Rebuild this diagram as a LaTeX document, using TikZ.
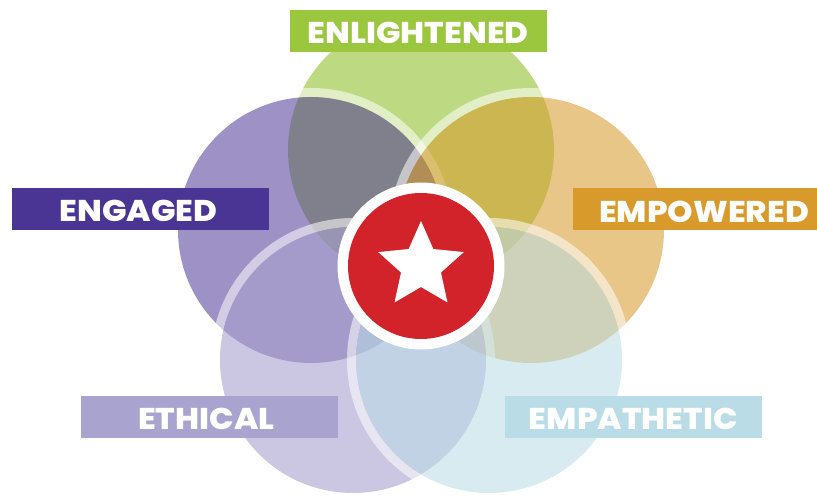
\documentclass[tikz,border=0pt]{standalone}
\usepackage{fontspec}
\newfontfamily\labfont{Poppins ExtraBold}[FakeStretch=1.08]
\usetikzlibrary{calc}
\definecolor{cgreen}{HTML}{9BC73F}
\definecolor{cpurple}{HTML}{4B3594}
\definecolor{corange}{HTML}{D79A2B}
\definecolor{clav}{HTML}{A9A3CF}
\definecolor{cblue}{HTML}{B9DCE6}
\definecolor{cred}{HTML}{D2232A}
\begin{document}
\begin{tikzpicture}[x=1pt,y=-1pt,
  ring/.style={draw=white, draw opacity=0.55, line width=9pt},
  labelbox/.style={rectangle, fill=#1, inner sep=0pt, outer sep=0pt, minimum height=42pt},
  labeltext/.style={anchor=base, inner sep=0pt, text=white, font=\labfont\fontsize{30}{30}\selectfont}
]
\clip (0,0) rectangle (817,502);
\fill[white] (0,0) rectangle (817,502);
% centres
\coordinate (cC) at (421,266);
\coordinate (cEnl) at (421,150);
\coordinate (cEng) at (311,230);
\coordinate (cEmp) at (531,230);
\coordinate (cEth) at (353,360);
\coordinate (cEpa) at (489,360);
% petals (ring outside the disc, then disc)
\path[ring] (cEnl) circle[radius=137.5pt];
\path[fill=cgreen, fill opacity=0.65] (cEnl) circle[radius=133pt];
\path[ring] (cEng) circle[radius=137.5pt];
\path[fill=cpurple, fill opacity=0.54] (cEng) circle[radius=133pt];
\path[ring] (cEmp) circle[radius=137.5pt];
\path[fill=corange, fill opacity=0.56] (cEmp) circle[radius=133pt];
\path[ring] (cEth) circle[radius=137.5pt];
\path[fill=clav, fill opacity=0.6] (cEth) circle[radius=133pt];
\path[ring] (cEpa) circle[radius=137.5pt];
\path[fill=cblue, fill opacity=0.55] (cEpa) circle[radius=133pt];
% centre badge
\path[fill=white] (cC) circle[radius=83.5pt];
\path[fill=cred] (cC) circle[radius=73pt];
\path[fill=white] ($(cC)+(0,-45)$) -- ($(cC)+(12.34,-16.99)$) -- ($(cC)+(42.80,-13.91)$)
  -- ($(cC)+(19.97,6.49)$) -- ($(cC)+(26.45,36.41)$) -- ($(cC)+(0,21)$)
  -- ($(cC)+(-26.45,36.41)$) -- ($(cC)+(-19.97,6.49)$) -- ($(cC)+(-42.80,-13.91)$)
  -- ($(cC)+(-12.34,-16.99)$) -- cycle;
% label boxes
\node[labelbox=cgreen, minimum width=257pt] (bEnl) at (418.5,31) {};
\node[labelbox=cpurple, minimum width=257pt] (bEng) at (140.5,209) {};
\node[labelbox=corange, minimum width=262pt] (bEmp) at (704,209) {};
\node[labelbox=clav, minimum width=257pt] (bEth) at (209.5,417) {};
\node[labelbox=cblue, minimum width=257pt] (bEpa) at (633.5,417) {};
% label texts
\node[labeltext] (tEnl) at (418.3,44) {ENLIGHTENED};
\node[labeltext] (tEng) at (138.3,221.7) {ENGAGED};
\node[labeltext] (tEmp) at (704,222.5) {EMPOWERED};
\node[labeltext] (tEth) at (206.3,429.3) {ETHICAL};
\node[labeltext] (tEpa) at (633.3,429.3) {EMPATHETIC};
\end{tikzpicture}
\end{document}
